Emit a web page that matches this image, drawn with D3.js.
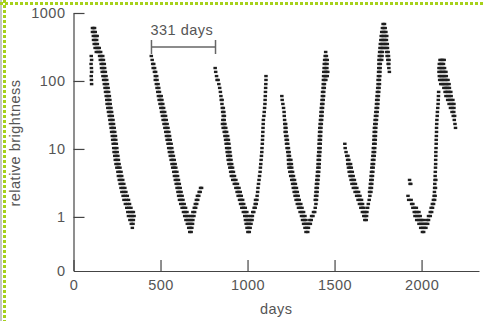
<!DOCTYPE html>
<html>
<head>
<meta charset="utf-8">
<script src="https://cdn.jsdelivr.net/npm/d3@7"></script>
<style>
  body { margin: 0; background: #fff; }
</style>
</head>
<body>
<div id="chart"></div>
<script>
// Light curve readings, one row per brightness level: [relative brightness, day, day, ...]
const cycle1 = [
  [233, 102], [204, 104], [178, 101], [155, 103], [136, 104], [118, 102], [103.5, 103], [90, 104],
  [601, 109, 115, 121], [526, 109, 117, 125], [459, 114, 122, 130, 136], [401, 115, 124, 133],
  [350, 119, 128, 137], [306, 124, 133, 142, 148], [267, 131, 140, 149, 156],
  [233, 150, 159, 168], [204, 154, 163, 172], [178, 159, 168, 177], [155, 161, 170, 179],
  [136, 165, 174, 183], [118, 169, 178, 187], [103.5, 173, 182, 191], [90, 177, 186, 195],
  [79, 181, 190, 199], [69, 184, 193, 202], [60, 188, 197, 206], [52.6, 191, 200, 209],
  [45.9, 193, 202, 211], [40.1, 197, 206, 215], [35, 201, 210, 219], [30.6, 205, 214, 223],
  [26.7, 209, 218, 227], [23.3, 212, 221, 230], [20.4, 216, 225, 234], [17.8, 219, 228, 237],
  [15.5, 223, 232, 241], [13.6, 225, 234, 243], [11.9, 228, 237, 246], [10.3, 231, 240, 249],
  [9.0, 233, 242, 251], [7.9, 237, 246, 255], [6.9, 240, 249, 258], [6.0, 244, 253, 262],
  [5.3, 249, 258, 267], [4.6, 255, 264, 273], [4.0, 258, 268, 277], [3.5, 263, 273, 283],
  [3.06, 268, 279, 289], [2.67, 273, 284, 295], [2.33, 278, 290, 301], [2.04, 285, 297, 309],
  [1.78, 290, 304, 316], [1.55, 298, 310, 322], [1.36, 306, 318, 330], [1.18, 312, 324, 336, 344],
  [1.03, 316, 328, 338, 348], [0.90, 324, 334, 344], [0.79, 332, 342], [0.69, 338]
];

const cycle2 = [
  [233, 447], [204, 452], [178, 455, 461], [155, 458, 466], [136, 465, 472], [118, 470, 478],
  [103.5, 470, 480], [90, 476, 486], [79, 480, 490], [69, 484, 494], [60, 488, 497, 504],
  [52.6, 492, 501, 508], [45.9, 497, 505, 513], [40.1, 502, 510, 518], [35, 506, 515, 524],
  [30.6, 511, 520, 529], [26.7, 515, 524, 533], [23.3, 520, 529, 538], [20.4, 525, 534, 543],
  [17.8, 530, 539, 548], [15.5, 534, 543, 552], [13.6, 538, 547, 556], [11.9, 543, 552, 561],
  [10.3, 547, 556, 565], [9.0, 551, 560, 569], [7.9, 556, 565, 574], [6.9, 561, 570, 579],
  [6.0, 566, 575, 584], [5.3, 570, 579, 588], [4.6, 576, 585, 594], [4.0, 580, 589, 598],
  [3.5, 585, 594, 603], [3.06, 590, 599, 608], [2.67, 595, 604, 613, 730, 736],
  [2.33, 600, 609, 618, 722, 728], [2.04, 604, 614, 624, 712, 720],
  [1.78, 609, 619, 629, 706, 714], [1.55, 616, 626, 636, 700, 708], [1.36, 624, 634, 644, 694, 702],
  [1.18, 632, 642, 652, 686, 696], [1.03, 639, 649, 659, 672, 682, 692],
  [0.90, 646, 656, 666, 676, 686], [0.79, 654, 664, 674, 684], [0.69, 662, 671, 680], [0.60, 668, 676]
];

const cycle3 = [
  [155, 814], [136, 817], [118, 822], [103.5, 825, 831], [90, 835], [79, 840], [69, 844],
  [60, 847], [52.6, 849, 854], [45.9, 853], [40.1, 855, 861], [35, 857, 864], [30.6, 860, 867],
  [26.7, 858, 866], [23.3, 856, 864, 870], [20.4, 860, 868, 875], [17.8, 866, 873, 880],
  [15.5, 870, 878, 886], [13.6, 874, 882, 890], [11.9, 877, 885, 893], [10.3, 880, 888, 896],
  [9.0, 883, 891, 899], [7.9, 886, 894, 902], [6.9, 889, 897, 905], [6.0, 893, 901, 909],
  [5.3, 898, 906, 914], [4.6, 903, 911, 919], [4.0, 907, 916, 925], [3.5, 915, 924, 933],
  [3.06, 924, 933, 942], [2.67, 933, 942, 951], [2.33, 940, 949, 958], [2.04, 946, 955, 964],
  [1.78, 954, 963, 972, 1046, 1054], [1.55, 960, 969, 978, 1044, 1050],
  [1.36, 967, 977, 987, 1038, 1044], [1.18, 976, 986, 996, 1030, 1036],
  [1.03, 984, 994, 1004, 1020, 1028], [0.90, 988, 998, 1008, 1018, 1026],
  [0.79, 992, 1001, 1010, 1020], [0.69, 997, 1006, 1015], [0.60, 1002, 1010],
  [2.04, 1055], [2.33, 1058], [2.67, 1060], [3.06, 1063], [3.5, 1066], [4.0, 1069], [4.6, 1072],
  [5.3, 1074], [6.0, 1076], [6.9, 1078], [7.9, 1080], [9.0, 1082], [10.3, 1083], [11.9, 1085],
  [13.6, 1086], [15.5, 1087], [17.8, 1088], [20.4, 1089], [23.3, 1090], [26.7, 1091],
  [30.6, 1094], [35, 1096], [40.1, 1098], [45.9, 1100], [52.6, 1101], [60, 1102], [69, 1103],
  [79, 1104], [90, 1105], [103.5, 1106], [118, 1106]
];

const cycle4 = [
  [60, 1197], [52.6, 1199], [45.9, 1203], [40.1, 1207], [35, 1210], [30.6, 1211], [26.7, 1213],
  [23.3, 1214, 1219], [20.4, 1216, 1221], [17.8, 1216, 1222], [15.5, 1219, 1226],
  [13.6, 1222, 1229], [11.9, 1224, 1231], [10.3, 1227, 1235], [9.0, 1231, 1239],
  [7.9, 1234, 1241], [6.9, 1235, 1242, 1249], [6.0, 1236, 1244, 1252], [5.3, 1238, 1246, 1254],
  [4.6, 1243, 1251, 1259], [4.0, 1248, 1256, 1264], [3.5, 1254, 1262, 1270],
  [3.06, 1259, 1267, 1275], [2.67, 1263, 1272, 1281], [2.33, 1268, 1277, 1286],
  [2.04, 1273, 1282, 1291], [1.78, 1279, 1288, 1297], [1.55, 1286, 1296, 1306, 1393],
  [1.36, 1293, 1303, 1313, 1389], [1.18, 1302, 1312, 1322, 1379, 1386],
  [1.03, 1310, 1320, 1330, 1368, 1376], [0.90, 1316, 1326, 1336, 1358, 1366],
  [0.79, 1322, 1332, 1342, 1352, 1361], [0.69, 1330, 1340, 1350], [0.60, 1336, 1346],
  [1.78, 1389, 1396], [2.04, 1391, 1398], [2.33, 1393, 1400], [2.67, 1394, 1401],
  [3.06, 1396, 1403], [3.5, 1398, 1405], [4.0, 1400, 1407], [4.6, 1402, 1409], [5.3, 1404, 1411],
  [6.0, 1405, 1412], [6.9, 1406, 1413], [7.9, 1407, 1414], [9.0, 1409, 1416], [10.3, 1410, 1417],
  [11.9, 1411, 1418], [13.6, 1412, 1419], [15.5, 1413, 1420], [17.8, 1414, 1421],
  [20.4, 1415, 1422], [23.3, 1417, 1424], [26.7, 1419, 1426], [30.6, 1421, 1428],
  [35, 1422, 1429], [40.1, 1424, 1431], [45.9, 1426, 1433], [52.6, 1428, 1435], [60, 1430, 1437],
  [69, 1431, 1438], [79, 1434, 1441], [90, 1435, 1442], [103.5, 1436, 1443, 1450],
  [118, 1437, 1444, 1451, 1458], [136, 1438, 1446, 1454, 1461], [155, 1440, 1448, 1456],
  [178, 1441, 1449, 1457], [204, 1443, 1451, 1458], [233, 1446, 1453], [267, 1449]
];

const cycle5 = [
  [11.9, 1559], [10.3, 1561], [9.0, 1566], [7.9, 1570, 1577], [6.9, 1575, 1582],
  [6.0, 1576, 1584, 1592], [5.3, 1580, 1588, 1596], [4.6, 1584, 1593, 1602],
  [4.0, 1589, 1598, 1607], [3.5, 1595, 1605, 1614], [3.06, 1600, 1610, 1620],
  [2.67, 1608, 1618, 1628], [2.33, 1618, 1628, 1638], [2.04, 1627, 1637, 1646, 1703],
  [1.78, 1635, 1645, 1655, 1699], [1.55, 1643, 1652, 1661, 1694], [1.36, 1651, 1660, 1669, 1690],
  [1.18, 1660, 1669, 1678, 1686], [1.03, 1668, 1676, 1684], [0.90, 1674, 1682],
  [2.33, 1701, 1709], [2.67, 1704, 1712], [3.06, 1706, 1714], [3.5, 1708, 1716], [4.0, 1710, 1718],
  [4.6, 1712, 1720], [5.3, 1714, 1722], [6.0, 1716, 1724], [6.9, 1718, 1726], [7.9, 1720, 1728],
  [9.0, 1722, 1730], [10.3, 1723, 1731], [11.9, 1725, 1733], [13.6, 1726, 1734],
  [15.5, 1727, 1735], [17.8, 1728, 1736], [20.4, 1729, 1737], [23.3, 1731, 1739],
  [26.7, 1733, 1741], [30.6, 1735, 1743], [35, 1737, 1745], [40.1, 1739, 1747],
  [45.9, 1741, 1749], [52.6, 1742, 1750], [60, 1744, 1752], [69, 1746, 1754], [79, 1748, 1756],
  [90, 1750, 1758], [103.5, 1750, 1758], [118, 1752, 1760], [136, 1753, 1761, 1815],
  [155, 1754, 1762, 1812], [178, 1755, 1763, 1808, 1812], [204, 1755, 1763, 1771, 1806, 1813],
  [233, 1757, 1765, 1773, 1802, 1810], [267, 1759, 1767, 1775, 1800, 1808],
  [306, 1761, 1769, 1777, 1785, 1796, 1804], [350, 1763, 1771, 1779, 1787, 1795, 1803],
  [401, 1766, 1774, 1782, 1790, 1798], [459, 1768, 1776, 1784, 1792, 1800],
  [526, 1771, 1779, 1787, 1795], [601, 1775, 1783, 1791], [689, 1779, 1787]
];

const cycle6 = [
  [3.5, 1931], [3.06, 1934, 1938], [2.04, 1922], [1.78, 1926, 1940], [1.55, 1943, 1950],
  [1.36, 1950, 1960, 1970, 2055, 2063], [1.18, 1958, 1966, 1975, 1985, 2050, 2058],
  [1.03, 1962, 1972, 1982, 1992, 2040, 2050], [0.90, 1972, 1982, 1992, 2000, 2010, 2030, 2040],
  [0.79, 1985, 1995, 2005, 2015, 2025, 2035], [0.69, 1995, 2005, 2015, 2025], [0.60, 2005, 2012],
  [1.55, 2062, 2069], [1.78, 2068, 2075], [2.04, 2072, 2078], [2.33, 2074], [2.67, 2075, 2080],
  [3.06, 2076], [3.5, 2077, 2082], [4.0, 2078], [4.6, 2079], [5.3, 2080], [6.0, 2081],
  [6.9, 2081], [7.9, 2082], [9.0, 2082], [10.3, 2083], [11.9, 2084], [13.6, 2084], [15.5, 2085],
  [17.8, 2086], [20.4, 2086], [23.3, 2087], [26.7, 2088], [30.6, 2090], [35, 2091], [40.1, 2093],
  [45.9, 2095], [52.6, 2096], [60, 2097], [69, 2098],
  [204, 2106, 2114, 2122, 2130], [178, 2102, 2110, 2118, 2126],
  [155, 2100, 2108, 2116, 2124, 2132], [136, 2100, 2108, 2116, 2124, 2132, 2140],
  [118, 2102, 2110, 2118, 2126, 2134, 2142], [103.5, 2104, 2112, 2120, 2128, 2136, 2144, 2152],
  [90, 2110, 2118, 2126, 2134, 2142, 2150, 2158], [79, 2128, 2136, 2144, 2152, 2160],
  [69, 2135, 2143, 2151, 2160, 2168], [60, 2140, 2150, 2160, 2170],
  [52.6, 2150, 2160, 2170, 2180], [45.9, 2158, 2168, 2178, 2186], [40.1, 2166, 2176, 2186],
  [35, 2175, 2185], [30.6, 2182, 2190], [26.7, 2188], [23.3, 2192], [20.4, 2195]
];

const xTicks = [0, 500, 1000, 1500, 2000];
const yTicks = [0.16, 1, 10, 100, 1000];
const yTickLabels = ["0", "1", "10", "100", "1000"];
const periodSpan = [448, 816];
const periodLabel = "331 days";

const points = [cycle1, cycle2, cycle3, cycle4, cycle5, cycle6]
  .flatMap(rows => rows.flatMap(([b, ...days]) => days.map(d => ({day: d, b}))));

const width = 483;
const height = 321;
const plotLeft = 73.5, plotRight = 479, plotTop = 13, plotBottom = 271;
const textColor = "#555";
const axisColor = "#444";
const font = "'Liberation Sans', Arial, Helvetica, sans-serif";

const svg = d3.select("#chart")
  .append("svg")
  .attr("width", width)
  .attr("height", height)
  .attr("viewBox", [0, 0, width, height])
  .style("display", "block")
  .style("font-family", font);

// frame (dotted green edge)
svg.append("rect").attr("x", 0).attr("y", 0).attr("width", 2).attr("height", height).attr("fill", "#c4c4c4");
svg.append("line").attr("x1", 0).attr("x2", width).attr("y1", 3.5).attr("y2", 3.5)
  .attr("stroke", "#a6d11a").attr("stroke-width", 3).attr("stroke-dasharray", "3,2");
svg.append("line").attr("x1", 4.5).attr("x2", 4.5).attr("y1", 0).attr("y2", height)
  .attr("stroke", "#a6d11a").attr("stroke-width", 3).attr("stroke-dasharray", "3,2");

const x = d3.scaleLinear().domain([0, 2330]).range([plotLeft, plotRight]);
const y = d3.scaleLog().domain([yTicks[0], 1000]).range([plotBottom, plotTop]);

// points
svg.append("g")
  .attr("fill", "#1e1e1e")
  .selectAll("rect")
  .data(points)
  .join("rect")
    .attr("x", d => x(d.day) - 1.75)
    .attr("y", d => y(d.b) - 1.2)
    .attr("width", 3.5)
    .attr("height", 2.4);

// axes
const gx = svg.append("g")
  .attr("transform", `translate(0,${plotBottom})`)
  .call(d3.axisBottom(x).tickValues(xTicks).tickFormat(d3.format("d"))
    .tickSizeInner(-11).tickSizeOuter(0).tickPadding(9));

const gy = svg.append("g")
  .attr("transform", `translate(${plotLeft},0)`)
  .call(d3.axisLeft(y).tickValues(yTicks).tickFormat((d, i) => yTickLabels[i])
    .tickSizeInner(-11).tickSizeOuter(0).tickPadding(8));

[gx, gy].forEach(g => {
  g.selectAll("path, line").attr("stroke", axisColor).attr("stroke-width", 1.2);
  g.selectAll("text")
    .attr("fill", textColor)
    .style("font-size", "14.5px")
    .style("font-family", font)
    .style("letter-spacing", "0.5px");
});
gy.selectAll(".tick").filter(d => d === yTicks[0]).select("line").remove();

// axis titles
svg.append("text")
  .attr("x", (plotLeft + plotRight) / 2)
  .attr("y", 314)
  .attr("text-anchor", "middle")
  .attr("fill", textColor)
  .style("font-size", "14.5px")
  .style("letter-spacing", "0.5px")
  .text("days");

svg.append("text")
  .attr("transform", `translate(20,143) rotate(-90)`)
  .attr("text-anchor", "middle")
  .attr("fill", textColor)
  .style("font-size", "14.5px")
  .style("letter-spacing", "0.5px")
  .text("relative brightness");

// period bracket
const br = svg.append("g").attr("stroke", "#666").attr("stroke-width", 1.5);
br.append("line").attr("x1", x(periodSpan[0])).attr("x2", x(periodSpan[1])).attr("y1", 47).attr("y2", 47);
periodSpan.forEach(d => {
  br.append("line").attr("x1", x(d)).attr("x2", x(d)).attr("y1", 40).attr("y2", 54);
});
svg.append("text")
  .attr("x", x(periodSpan[0]) - 1)
  .attr("y", 35)
  .attr("fill", textColor)
  .style("font-size", "14.5px")
  .style("letter-spacing", "0.5px")
  .text(periodLabel);
</script>
</body>
</html>
